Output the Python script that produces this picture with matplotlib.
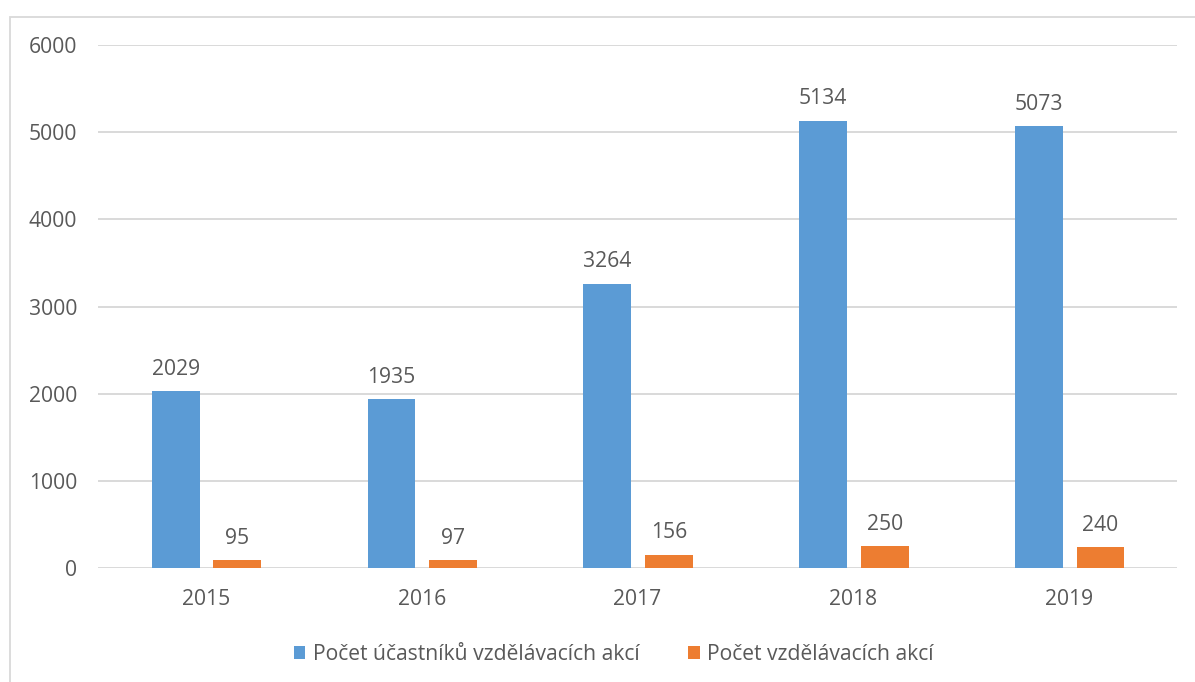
import numpy as np
import matplotlib.pyplot as plt
from matplotlib.patches import Rectangle

roky = ["2015", "2016", "2017", "2018", "2019"]
ucastnici = [2029, 1935, 3264, 5134, 5073]
akce = [95, 97, 156, 250, 240]
yticks = [0, 1000, 2000, 3000, 4000, 5000, 6000]

plt.rcParams['font.family'] = ['Open Sans', 'DejaVu Sans']
txt = "#595959"
fs = 15.2

fig = plt.figure(figsize=(11.95, 6.82), dpi=100)
ax = fig.add_axes([0.082, 0.167, 0.903, 0.767])

# rámeček grafu
fig.patches.append(Rectangle((10 / 1195, -0.1), 1.2, 0.1 + (682 - 17) / 682,
                             transform=fig.transFigure, fill=False,
                             edgecolor="#D9D9D9", linewidth=1.3))

x = np.arange(len(roky))
w = 0.222
b1 = ax.bar(x - 0.14, ucastnici, w, color="#5B9BD5", label="Počet účastníků vzdělávacích akcí", zorder=3)
b2 = ax.bar(x + 0.145, akce, w, color="#ED7D31", label="Počet vzdělávacích akcí", zorder=3)

for bars in (b1, b2):
    for r in bars:
        ax.annotate(str(int(r.get_height())), (r.get_x() + r.get_width() / 2, r.get_height()),
                    xytext=(0, 8), textcoords="offset points", ha="center", va="bottom",
                    fontsize=fs, color=txt)

ax.set_xlim(-0.5, 4.5)
ax.set_ylim(0, 6000)
ax.set_yticks(yticks)
ax.set_xticks(x)
ax.set_xticklabels(roky)
ax.tick_params(axis="both", length=0, labelsize=fs, labelcolor=txt)
ax.tick_params(axis="y", pad=15)
ax.tick_params(axis="x", pad=15)
ax.grid(axis="y", color="#D9D9D9", linewidth=1.4, zorder=0)
for s in ax.spines.values():
    s.set_visible(False)

ax.legend(loc="center", bbox_to_anchor=(0.478, -0.165), ncol=2, frameon=False,
          fontsize=fs, labelcolor=txt, handlelength=0.55, handleheight=0.55,
          handletextpad=0.35, columnspacing=2.3)

plt.savefig("out.png", dpi=100)
